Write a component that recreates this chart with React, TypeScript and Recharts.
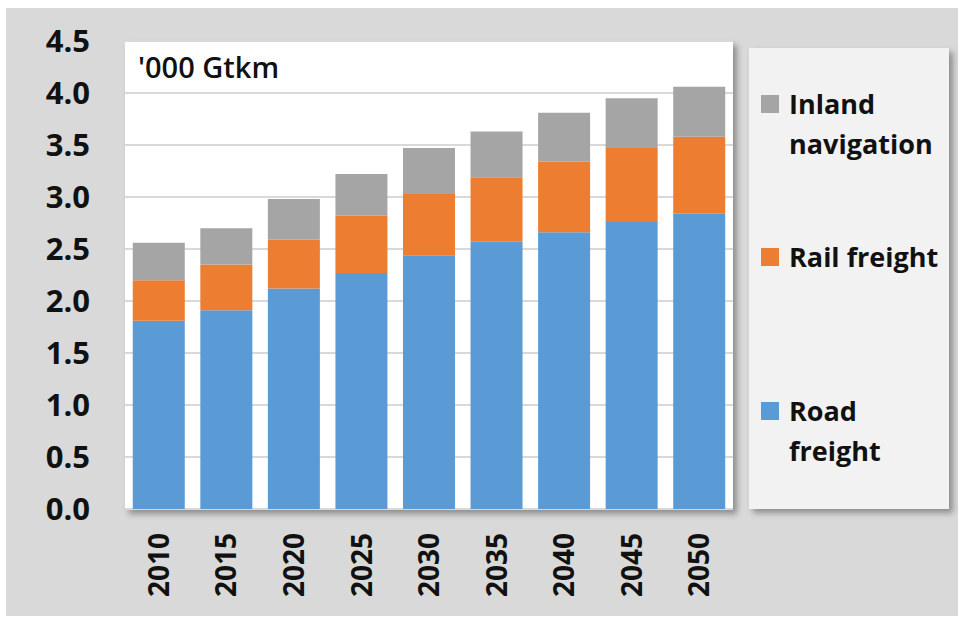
import { BarChart, Bar, XAxis, YAxis, CartesianGrid } from "recharts";

const years = ["2010", "2015", "2020", "2025", "2030", "2035", "2040", "2045", "2050"];
const roadFreight = [1.81, 1.91, 2.12, 2.27, 2.44, 2.57, 2.66, 2.76, 2.84];
const railFreight = [0.39, 0.44, 0.47, 0.55, 0.59, 0.62, 0.68, 0.71, 0.74];
const inlandNavigation = [0.36, 0.35, 0.39, 0.4, 0.44, 0.44, 0.47, 0.48, 0.48];
const yTicks = [0, 0.5, 1, 1.5, 2, 2.5, 3, 3.5, 4, 4.5];
const unitLabel = "'000 Gtkm";

// legend order, top to bottom
const series = [
  { key: "inland", name: "Inland navigation", color: "#a5a5a5" },
  { key: "rail", name: "Rail freight", color: "#ed7d31" },
  { key: "road", name: "Road freight", color: "#5b9bd5" },
];

const data = years.map((year, i) => ({
  year,
  road: roadFreight[i],
  rail: railFreight[i],
  inland: inlandNavigation[i],
}));

const FONT = "'Open Sans', 'Noto Sans', sans-serif";

function YearTick({ x, y, payload }: { x?: number; y?: number; payload?: { value: string } }) {
  return (
    <text
      x={x}
      y={y}
      transform={`rotate(-90, ${x}, ${y})`}
      textAnchor="end"
      dy="0.36em"
      fontFamily={FONT}
      fontWeight={700}
      fontSize={28}
      fill="#111"
    >
      {payload?.value}
    </text>
  );
}

const legendTops = [84, 237, 391];

export default function App() {
  return (
    <div style={{ position: "absolute", left: 0, top: 0, width: 964, height: 618, background: "#fff", fontFamily: FONT }}>
      <div style={{ position: "absolute", left: 6, top: 8, width: 952, height: 608, background: "#d9d9d9" }} />
      <div
        style={{
          position: "absolute",
          left: 125,
          top: 41,
          width: 608,
          height: 469,
          background: "#fff",
          boxShadow: "4px 4px 6px rgba(0,0,0,0.35)",
        }}
      />
      <div
        style={{
          position: "absolute",
          left: 749,
          top: 48,
          width: 200,
          height: 461,
          background: "#f2f2f2",
          boxShadow: "4px 4px 6px rgba(0,0,0,0.35)",
        }}
      />
      <div style={{ position: "absolute", left: 0, top: 0 }}>
        <BarChart width={964} height={618} data={data} margin={{ top: 41, right: 231, bottom: 0, left: 0 }} barCategoryGap="11.5%">
          <CartesianGrid vertical={false} stroke="#d9d9d9" strokeWidth={2} />
          <XAxis
            dataKey="year"
            height={109}
            tickSize={0}
            tickMargin={24}
            axisLine={false}
            tickLine={false}
            interval={0}
            tick={<YearTick />}
          />
          <YAxis
            width={125}
            domain={[0, 4.5]}
            ticks={yTicks}
            tickFormatter={(v: number) => v.toFixed(1)}
            tickSize={0}
            tickMargin={35}
            axisLine={false}
            tickLine={false}
            tick={{ fill: "#111", fontSize: 31, fontWeight: 700, fontFamily: FONT }}
          />
          <Bar dataKey="road" stackId="a" fill="#5b9bd5" isAnimationActive={false} />
          <Bar dataKey="rail" stackId="a" fill="#ed7d31" isAnimationActive={false} />
          <Bar dataKey="inland" stackId="a" fill="#a5a5a5" isAnimationActive={false} />
        </BarChart>
      </div>
      <div style={{ position: "absolute", left: 138, top: 50, fontSize: 29, fontWeight: 600, color: "#111", lineHeight: "34px" }}>
        {unitLabel}
      </div>
      {series.map((s, i) => (
        <div key={s.key} style={{ position: "absolute", left: 761, top: legendTops[i], display: "flex", alignItems: "flex-start" }}>
          <div style={{ width: 18, height: 18, marginTop: 11, background: s.color, flexShrink: 0 }} />
          <div style={{ marginLeft: 10, width: 155, fontSize: 27, fontWeight: 700, lineHeight: "40px", color: "#111" }}>{s.name}</div>
        </div>
      ))}
    </div>
  );
}
